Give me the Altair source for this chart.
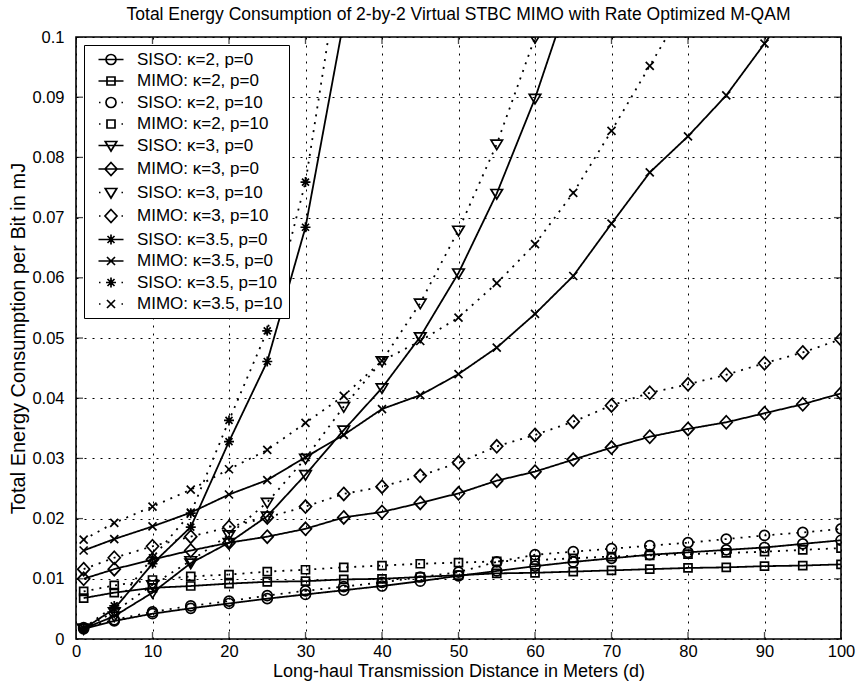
import altair as alt
import pandas as pd

# ---------------- data ----------------
distance = [1, 5, 10, 15, 20, 25, 30, 35, 40, 45, 50, 55, 60, 65, 70, 75, 80, 85, 90, 95, 100]

labels = ["SISO: κ=2, p=0", "MIMO: κ=2, p=0", "SISO: κ=2, p=10", "MIMO: κ=2, p=10",
          "SISO: κ=3, p=0", "MIMO: κ=3, p=0", "SISO: κ=3, p=10", "MIMO: κ=3, p=10",
          "SISO: κ=3.5, p=0", "MIMO: κ=3.5, p=0", "SISO: κ=3.5, p=10", "MIMO: κ=3.5, p=10"]

siso_k2_p0 = [0.0017, 0.0030, 0.0042, 0.0051, 0.0059, 0.0067, 0.0074, 0.0081, 0.0088, 0.0096, 0.0105,
              0.0113, 0.0121, 0.0128, 0.0134, 0.0140, 0.0144, 0.0148, 0.0152, 0.0158, 0.0164]
mimo_k2_p0 = [0.0068, 0.0077, 0.0085, 0.0088, 0.0092, 0.0095, 0.0096, 0.0099, 0.0100, 0.0103, 0.0106,
              0.0109, 0.0110, 0.0112, 0.0114, 0.0116, 0.0118, 0.0119, 0.0121, 0.0122, 0.0124]
siso_k2_p10 = [0.0019, 0.0032, 0.0045, 0.0055, 0.0063, 0.0072, 0.0080, 0.0087, 0.0094, 0.0103, 0.0111,
               0.0128, 0.0140, 0.0145, 0.0150, 0.0155, 0.0160, 0.0166, 0.0172, 0.0177, 0.0183]
mimo_k2_p10 = [0.0079, 0.0089, 0.0098, 0.0104, 0.0107, 0.0112, 0.0115, 0.0119, 0.0122, 0.0125, 0.0127,
               0.0129, 0.0131, 0.0134, 0.0137, 0.0139, 0.0141, 0.0143, 0.0145, 0.0148, 0.0151]
siso_k3_p0 = [0.0017, 0.0038, 0.0077, 0.0126, 0.0160, 0.0204, 0.0273, 0.0347, 0.0417, 0.0502, 0.0608,
              0.0740, 0.0898, 0.1087]
mimo_k3_p0 = [0.0100, 0.0116, 0.0132, 0.0147, 0.0160, 0.0170, 0.0183, 0.0202, 0.0211, 0.0226, 0.0242,
              0.0263, 0.0278, 0.0298, 0.0318, 0.0336, 0.0349, 0.0360, 0.0375, 0.0390, 0.0408]
siso_k3_p10 = [0.0018, 0.0045, 0.0090, 0.0130, 0.0173, 0.0227, 0.0300, 0.0386, 0.0462, 0.0558, 0.0679,
               0.0822, 0.0999, 0.1200]
mimo_k3_p10 = [0.0116, 0.0135, 0.0154, 0.0170, 0.0186, 0.0202, 0.0220, 0.0241, 0.0253, 0.0271, 0.0293,
               0.0320, 0.0339, 0.0361, 0.0388, 0.0409, 0.0423, 0.0439, 0.0458, 0.0476, 0.0498]
siso_k35_p0 = [0.0017, 0.0050, 0.0125, 0.0186, 0.0328, 0.0461, 0.0684, 0.1027]
mimo_k35_p0 = [0.0147, 0.0166, 0.0187, 0.0210, 0.0240, 0.0264, 0.0302, 0.0339, 0.0382, 0.0405, 0.0440,
               0.0484, 0.0540, 0.0603, 0.0690, 0.0775, 0.0835, 0.0903, 0.0989, 0.1080]
siso_k35_p10 = [0.0018, 0.0055, 0.0135, 0.0209, 0.0363, 0.0512, 0.0759, 0.1160]
mimo_k35_p10 = [0.0165, 0.0193, 0.0220, 0.0248, 0.0282, 0.0314, 0.0359, 0.0404, 0.0462, 0.0495, 0.0534,
                0.0591, 0.0656, 0.0741, 0.0844, 0.0952, 0.1060]

series_values = [siso_k2_p0, mimo_k2_p0, siso_k2_p10, mimo_k2_p10,
                 siso_k3_p0, mimo_k3_p0, siso_k3_p10, mimo_k3_p10,
                 siso_k35_p0, mimo_k35_p0, siso_k35_p10, mimo_k35_p10]

x_ticks = [0, 10, 20, 30, 40, 50, 60, 70, 80, 90, 100]
y_ticks = [0, 0.01, 0.02, 0.03, 0.04, 0.05, 0.06, 0.07, 0.08, 0.09, 0.1]

rows = []
for lab, vals in zip(labels, series_values):
    for d, v in zip(distance, vals):
        rows.append({"series": lab, "d": d, "E": v})
df = pd.DataFrame(rows)

# ---------------- styles ----------------
FONT = "Liberation Sans, Arial, Helvetica, sans-serif"

# marker geometry in unit coordinates (polylines, closed flag)
SQUARE = [([(-0.8, -0.8), (0.8, -0.8), (0.8, 0.8), (-0.8, 0.8)], True)]
TRI_DOWN = [([(-1.15, -0.8), (1.15, -0.8), (0, 1.1)], True)]
DIAMOND = [([(0, -1.3), (1.2, 0), (0, 1.3), (-1.2, 0)], True)]
XMARK = [([(-0.8, -0.8), (0.8, 0.8)], False), ([(-0.8, 0.8), (0.8, -0.8)], False)]
STAR = [([(0, -1), (0, 1)], False), ([(-1, 0), (1, 0)], False),
        ([(-0.7, -0.7), (0.7, 0.7)], False), ([(-0.7, 0.7), (0.7, -0.7)], False)]
CIRCLE = "circle"


def path_of(marker, dx=0.0):
    if marker == CIRCLE:
        return f"M{dx-1:.2f},0A1,1 0 1,1 {dx+1:.2f},0A1,1 0 1,1 {dx-1:.2f},0Z"
    parts = []
    for pts, closed in marker:
        s = "M" + "L".join(f"{x+dx:.2f},{y:.2f}" for x, y in pts)
        if closed:
            s += "Z"
        parts.append(s)
    return "".join(parts)


markers = [CIRCLE, SQUARE, CIRCLE, SQUARE, TRI_DOWN, DIAMOND, TRI_DOWN, DIAMOND,
           STAR, XMARK, STAR, XMARK]
dotted = [False, False, True, True, False, False, True, True, False, False, True, True]

marker_shapes = ["circle" if m == CIRCLE else path_of(m) for m in markers]
SOLID_SEG = "M0,0L5,0"
DOT_SEG = "M0.1,0L0.4,0M4.6,0L4.9,0"
legend_shapes = [(DOT_SEG if dt else SOLID_SEG) + path_of(m, 2.5) for m, dt in zip(markers, dotted)]
dash_range = [[2, 6] if dt else [1, 0] for dt in dotted]

X = alt.X("d:Q", scale=alt.Scale(domain=[0, 100], nice=False, zero=False),
          axis=alt.Axis(values=x_ticks, title="Long-haul Transmission Distance in Meters (d)",
                        grid=True, gridDash=[2, 6], gridColor="black", gridOpacity=1, gridWidth=1,
                        ticks=False, domain=False, labelFlush=False, labelOverlap=False,
                        labelFontSize=16.5, labelPadding=4, labelFont=FONT, labelColor="black",
                        titleFontSize=18, titleFont=FONT, titleFontWeight="normal", titleColor="black",
                        titlePadding=3))
Y = alt.Y("E:Q", scale=alt.Scale(domain=[0, 0.1], nice=False, zero=False),
          axis=alt.Axis(values=y_ticks, format=".2~f", title="Total Energy Consumption per Bit in mJ",
                        grid=True, gridDash=[2, 6], gridColor="black", gridOpacity=1, gridWidth=1,
                        ticks=False, domain=False, labelFlush=False, labelOverlap=False,
                        labelFontSize=16.5, labelPadding=12, labelFont=FONT, labelColor="black",
                        titleFontSize=20, titleFont=FONT, titleFontWeight="normal", titleColor="black",
                        titlePadding=3))

base = alt.Chart(df)

lines = base.mark_line(clip=True, strokeWidth=1.8, color="black").encode(
    x=X, y=Y, detail="series:N",
    strokeDash=alt.StrokeDash("series:N", scale=alt.Scale(domain=labels, range=dash_range), legend=None),
)

points = base.mark_point(clip=True, filled=False, strokeWidth=1.7, color="black", opacity=1, size=100).encode(
    x=X, y=Y,
    shape=alt.Shape("series:N", scale=alt.Scale(domain=labels, range=marker_shapes), legend=None),
)

legend_layer = base.transform_filter("false").mark_point(
    filled=False, strokeWidth=1.7, color="black", opacity=1, size=100
).encode(
    x=X, y=Y,
    shape=alt.Shape("series:N", scale=alt.Scale(domain=labels, range=legend_shapes),
                    legend=alt.Legend(title=None, orient="top-left", offset=8, padding=6,
                                      strokeColor="black", fillColor="white",
                                      symbolSize=100, symbolStrokeWidth=1.7, symbolStrokeColor="black",
                                      symbolFillColor="transparent", symbolOpacity=1,
                                      labelFontSize=17, labelFont=FONT, labelColor="black",
                                      labelOffset=30, rowPadding=3.5, labelLimit=400)),
)

# inward ticks on all four sides (centered on the frame, clipped to the inside)
tick_bottom = pd.DataFrame({"d": x_ticks, "E": [y_ticks[0]] * len(x_ticks)})
tick_top = pd.DataFrame({"d": x_ticks, "E": [y_ticks[-1]] * len(x_ticks)})
tick_left = pd.DataFrame({"d": [x_ticks[0]] * len(y_ticks), "E": y_ticks})
tick_right = pd.DataFrame({"d": [x_ticks[-1]] * len(y_ticks), "E": y_ticks})

xt = alt.layer(
    alt.Chart(tick_bottom).mark_tick(orient="vertical", size=14, thickness=1.3, color="black", clip=True).encode(x=X, y=Y),
    alt.Chart(tick_top).mark_tick(orient="vertical", size=14, thickness=1.3, color="black", clip=True).encode(x=X, y=Y),
    alt.Chart(tick_left).mark_tick(orient="horizontal", size=14, thickness=1.3, color="black", clip=True).encode(x=X, y=Y),
    alt.Chart(tick_right).mark_tick(orient="horizontal", size=14, thickness=1.3, color="black", clip=True).encode(x=X, y=Y),
)

chart = alt.layer(lines, points, xt, legend_layer).resolve_scale(
    shape="independent"
).properties(
    width=765, height=602,
    title=alt.TitleParams("Total Energy Consumption of 2-by-2 Virtual STBC MIMO with Rate Optimized M-QAM",
                          fontSize=17.5, font=FONT, fontWeight="normal", color="black",
                          anchor="middle", frame="group", offset=6),
    autosize=alt.AutoSizeParams(type="none"),
    padding={"left": 76, "top": 37, "right": 15, "bottom": 46},
    background="white",
).configure_view(stroke="black", strokeWidth=1.6)

chart.save("out.html", embed_options={"renderer": "svg", "actions": False})
